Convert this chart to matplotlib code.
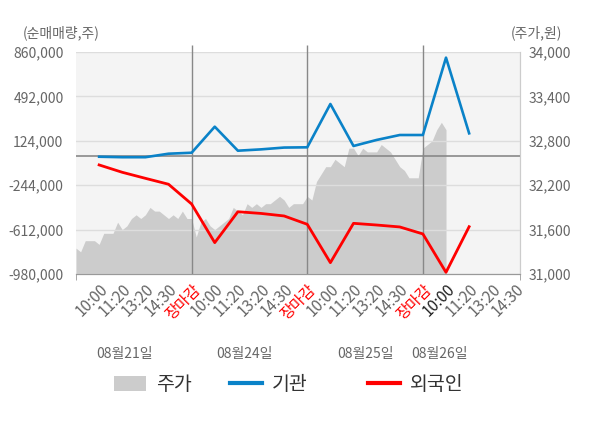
import numpy as np
import matplotlib
matplotlib.use('Agg')
import matplotlib.pyplot as plt
from matplotlib.patches import Patch
from matplotlib.lines import Line2D
import matplotlib.transforms as mtransforms

plt.rcParams['font.family'] = ['Noto Sans CJK KR', 'DejaVu Sans']

# x tick labels (one per slot, slot 0 = market open)
tick_labels = ['10:00', '11:20', '13:20', '14:30', '장마감',
               '10:00', '11:20', '13:20', '14:30', '장마감',
               '10:00', '11:20', '13:20', '14:30', '장마감',
               '10:00', '11:20', '13:20', '14:30']
dates = ['08월21일', '08월24일', '08월25일', '08월26일']
date_pos = [2.1, 7.3, 12.5, 15.7]

# net buying (shares), one value per slot 1..17
inst = [-8000, -12000, -12000, 17000, 25000, 241000, 42000, 53000, 68000,
        70000, 429000, 81000, 131000, 172000, 172000, 813000, 186000]
foreign = [-76000, -137000, -187000, -236000, -400000, -720000, -464000,
           -478000, -499000, -568000, -886000, -560000, -574000, -590000,
           -648000, -966000, -588000]

# stock price, sampled every 0.2 slot
price = [31350, 31300, 31450, 31450, 31450, 31400, 31550, 31550, 31550, 31700,
         31600, 31650, 31750, 31800, 31750, 31800, 31900, 31850, 31850, 31800,
         31750, 31800, 31750, 31850, 31750, 31750, 31500, 31700, 31750, 31650,
         31600, 31650, 31700, 31750, 31900, 31850, 31800, 31950, 31900, 31950,
         31900, 31950, 31950, 32000, 32050, 32000, 31900, 31950, 31950, 31950,
         32050, 32000, 32250, 32350, 32450, 32450, 32550, 32500, 32450, 32700,
         32700, 32600, 32700, 32650, 32650, 32650, 32750, 32700, 32650, 32550,
         32450, 32400, 32300, 32300, 32300, 32700, 32750, 32800, 32950, 33050,
         32950]

left_ticks = [-980000, -612000, -244000, 124000, 492000, 860000]
right_ticks = [31000, 31600, 32200, 32800, 33400, 34000]

gray = '#666666'
fig = plt.figure(figsize=(6, 4.28), dpi=100)
ax = fig.add_axes([76/600, 1-274/428, 444/600, 222/428])
ax2 = ax.twinx()

ax.set_facecolor('#f4f4f4')
px = np.arange(len(price)) * 0.2
ax.fill_between(px, 31000, price, color='#cccccc', lw=0)
ax.set_ylim(31000, 34000)
ax.set_xlim(0, 19.2)
ax.yaxis.tick_right()
ax.set_yticks(right_ticks)
ax.set_yticklabels([f'{v:,}' for v in right_ticks])
ax.tick_params(axis='y', length=0, pad=6, labelsize=10, labelcolor=gray)

ax2.yaxis.tick_left()
ax2.set_ylim(-980000, 860000)
ax2.set_yticks(left_ticks)
ax2.set_yticklabels([f'{v:,}' for v in left_ticks])
ax2.tick_params(axis='y', length=0, pad=9, labelsize=10, labelcolor=gray)
ax2.grid(axis='y', color='#dddddd', lw=1, zorder=1)
ax2.set_axisbelow(True)
ax2.axhline(0, color='#888888', lw=1.2, zorder=2)

trans = mtransforms.blended_transform_factory(ax2.transData, ax2.transAxes)
ax2.vlines([5, 10, 15], 0, 1 + 7/222, transform=trans, color='#888888',
           lw=1, clip_on=False, zorder=2)

fx = np.arange(1, len(inst) + 1)
ax2.plot(fx, inst, color='#0a82c8', lw=1.9, zorder=3)
ax2.plot(fx, foreign, color='#ff0000', lw=2.0, zorder=3)

for a in (ax, ax2):
    for s in ('top', 'left'):
        a.spines[s].set_visible(False)
    a.spines['right'].set_color('#cccccc')
    a.spines['bottom'].set_color('#999999')

# x axis is drawn by the base axes (twin's x axis is hidden)
ax.set_xticks(np.arange(1, len(tick_labels) + 1))
ax.set_xticklabels(tick_labels, rotation=45, ha='right', va='top',
                   rotation_mode='anchor', fontsize=11)
ax.tick_params(axis='x', which='major', length=0, pad=5)
for i, t in enumerate(ax.get_xticklabels()):
    if t.get_text() == '장마감':
        t.set_color('red')
    elif i == 15:
        t.set_color('#222222')
    else:
        t.set_color(gray)
ax.set_xticks([0, 5, 10, 15, 19.2], minor=True)
ax.tick_params(axis='x', which='minor', length=4, color='#999999')

for d, p in zip(dates, date_pos):
    ax2.text(p, -80/222, d, transform=trans, ha='center', va='center',
             fontsize=10, color=gray)

fig.text(61/600, 1-33/428, '(순매매량,주)', ha='center', va='center',
         fontsize=10, color=gray)
fig.text(536/600, 1-33/428, '(주가,원)', ha='center', va='center',
         fontsize=10, color=gray)

items = [(Patch(facecolor='#cccccc', edgecolor='none'), '주가', 114),
         (Line2D([], [], color='#0a82c8', lw=3), '기관', 230),
         (Line2D([], [], color='#ff0000', lw=3), '외국인', 368)]
for h, lab, x0 in items:
    fig.legend(handles=[h], labels=[lab], loc='center left',
               bbox_to_anchor=(x0/600, 1-385/428), frameon=False,
               borderpad=0, borderaxespad=0, handlelength=1.65,
               handleheight=0.8, handletextpad=0.5,
               prop={'size': 14}, labelcolor='#333333')

fig.savefig('out.png', dpi=100)
